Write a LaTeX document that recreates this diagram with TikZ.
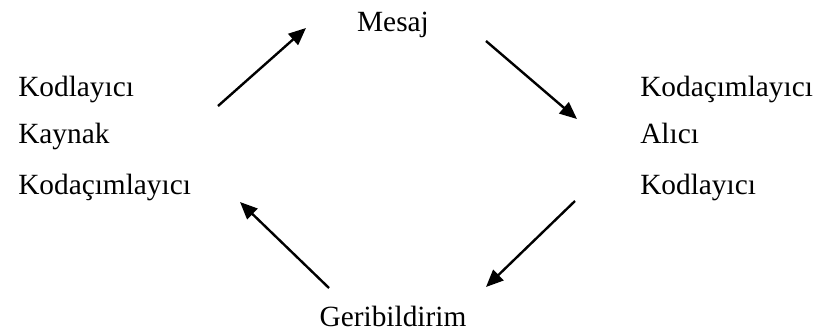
\documentclass[tikz,border=0pt]{standalone}
\usepackage{fontspec}
\setmainfont{Liberation Serif}
\usetikzlibrary{arrows.meta,positioning}
\tikzset{
  lbl/.style={font=\fontsize{22}{26}\selectfont, inner sep=0pt, anchor=base west},
  arr/.style={-{Triangle[length=13pt,width=11pt]}, line width=1.8pt},
}
\begin{document}
\begin{tikzpicture}[x=0.75pt,y=-0.75pt]
\useasboundingbox (0,0) rectangle (814,333);
% center labels
\node[lbl, anchor=base] (mesaj) at (393,31) {Mesaj};
\node[lbl, anchor=base] (geri) at (393,326) {Geribildirim};
% source side
\node[lbl] (kod1) at (18,96) {Kodlayıcı};
\node[lbl] (kaynak) at (18,143) {Kaynak};
\node[lbl] (ac1) at (18,194) {Kodaçımlayıcı};
% receiver side
\node[lbl] (ac2) at (640,96) {Kodaçımlayıcı};
\node[lbl] (alici) at (640,143) {Alıcı};
\node[lbl] (kod2) at (640,194) {Kodlayıcı};
% arrow ends
\coordinate (s1) at (218,106);
\coordinate (t1) at (306,28);
\coordinate (s2) at (486,41);
\coordinate (t2) at (577,119);
\coordinate (s3) at (575,201);
\coordinate (t3) at (486,287);
\coordinate (s4) at (329,288);
\coordinate (t4) at (240,202);
\draw[arr] (s1) -- (t1);
\draw[arr] (s2) -- (t2);
\draw[arr] (s3) -- (t3);
\draw[arr] (s4) -- (t4);
\end{tikzpicture}
\end{document}
